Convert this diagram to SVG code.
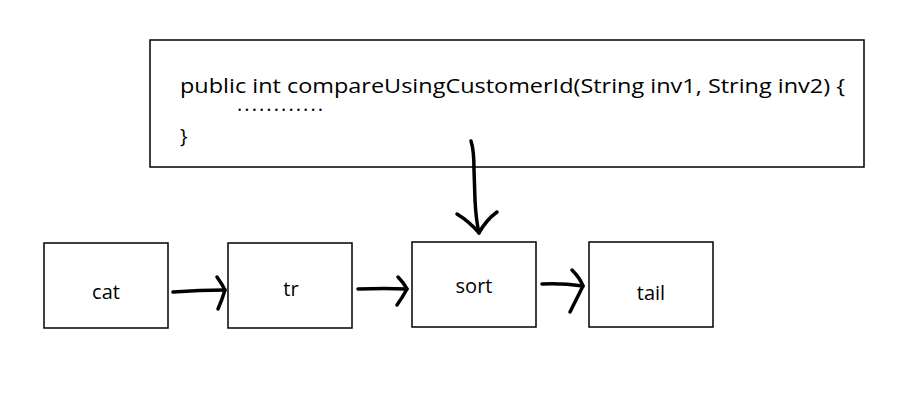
<svg xmlns="http://www.w3.org/2000/svg" width="920" height="396" viewBox="0 0 920 396">
<style>
.box{fill:#fff;stroke:#000;stroke-width:1.5}
.t{font-family:"Open Sans","Noto Sans",sans-serif;font-size:20px;fill:#000}
.c{font-family:"Open Sans","Noto Sans",sans-serif;font-size:20px;fill:#000}
.a{fill:none;stroke:#000;stroke-width:3.5;stroke-linecap:round;stroke-linejoin:round}
</style>
<rect width="920" height="396" fill="#fff"/>
<g id="code">
<rect class="box" x="150" y="40" width="714" height="127"/>
<text class="c" x="180" y="93" textLength="665" lengthAdjust="spacingAndGlyphs">public int compareUsingCustomerId(String inv1, String inv2) {</text>
<text class="c" x="237" y="111" textLength="86" lengthAdjust="spacing" font-size="11">............</text>
<text class="c" x="180" y="143">}</text>
</g>
<g id="cat"><rect class="box" x="44" y="243" width="124" height="85"/><text class="t" x="106" y="299" text-anchor="middle">cat</text></g>
<g id="tr"><rect class="box" x="228" y="243" width="124" height="85"/><text class="t" x="291" y="296" text-anchor="middle">tr</text></g>
<g id="sort"><rect class="box" x="412" y="242" width="124" height="85"/><text class="t" x="474" y="293" text-anchor="middle">sort</text></g>
<g id="tail"><rect class="box" x="589" y="242" width="124" height="85"/><text class="t" x="651" y="300" text-anchor="middle">tail</text></g>
<g id="connectors">
<path class="a" d="M471,141 Q474,150 474,170 L475,200 Q476,220 479,233"/>
<path class="a" d="M457,214 Q470,222 479,233 Q486,220 497,212"/>
<path class="a" d="M173,292 Q200,290 225,290"/>
<path class="a" d="M217,277 Q222,284 225,290 Q222,300 218,309"/>
<path class="a" d="M358,289 Q385,288 407,289"/>
<path class="a" d="M398,277 Q404,283 407,289 Q402,298 397,305"/>
<path class="a" d="M542,284 Q562,283 583,286"/>
<path class="a" d="M572,270 Q580,278 583,286 Q576,300 570,312"/>
</g>
</svg>
